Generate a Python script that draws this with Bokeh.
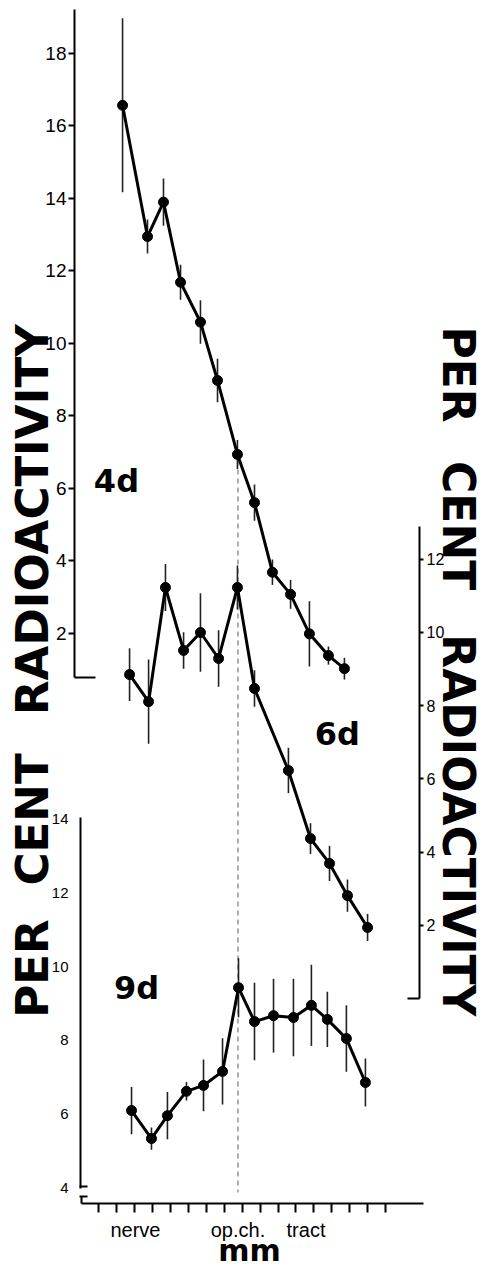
import math
from bokeh.plotting import figure
from bokeh.models import Range1d, LinearAxis, FixedTicker, Label
from bokeh.embed import file_html
from bokeh.resources import INLINE

# ---------------- data (x in mm along the visual pathway) ----------------
x4 = [1.34, 2.73, 3.62, 4.57, 5.68, 6.63, 7.74, 8.69, 9.69, 10.70, 11.75, 12.81, 13.70]
y4 = [16.57, 12.95, 13.9, 11.69, 10.59, 8.98, 6.94, 5.61, 3.69, 3.08, 1.99, 1.39, 1.03]
e4 = [2.4, 0.47, 0.65, 0.48, 0.6, 0.6, 0.4, 0.5, 0.35, 0.4, 0.9, 0.25, 0.3]

x6 = [1.73, 2.79, 3.73, 4.74, 5.68, 6.69, 7.74, 8.69, 10.58, 11.81, 12.87, 13.87, 14.99]
y6 = [8.85, 8.11, 11.23, 9.51, 10.0, 9.29, 11.23, 8.47, 6.23, 4.37, 3.69, 2.81, 1.94]
e6 = [0.72, 1.15, 0.64, 0.5, 1.07, 0.77, 0.6, 0.5, 0.62, 0.42, 0.48, 0.44, 0.37]

x9 = [1.84, 2.95, 3.84, 4.90, 5.85, 6.91, 7.80, 8.69, 9.75, 10.86, 11.86, 12.75, 13.81, 14.87]
y9 = [6.10, 5.34, 5.96, 6.62, 6.78, 7.16, 9.43, 8.51, 8.67, 8.62, 8.95, 8.57, 8.05, 6.86]
e9 = [0.64, 0.3, 0.64, 0.25, 0.7, 0.9, 0.8, 1.05, 1.0, 1.05, 1.1, 0.75, 0.9, 0.65]

ticks4 = [2, 4, 6, 8, 10, 12, 14, 16, 18]
ticks6 = [2, 4, 6, 8, 10, 12]
ticks9 = [4, 6, 8, 10, 12, 14]
mm_ticks = list(range(17))
region_pos = [2.06, 7.77, 11.56]
region_names = ["nerve", "op.ch.", "tract"]
chiasm_x = 7.77
chiasm_y4 = [6.77, -13.42]

# ---------------- figure (frame = whole canvas, axes at fixed places) ----------------
p = figure(width=484, height=1267,
           x_range=Range1d(-5.460, 21.504), y_range=Range1d(-15.490, 19.462),
           x_axis_type=None, y_axis_type=None,
           output_backend="svg", toolbar_location=None,
           min_border_left=0, min_border_right=0,
           min_border_top=0, min_border_bottom=0)
p.extra_y_ranges = {"d6": Range1d(-7.350, 27.268), "d9": Range1d(1.846, 36.182)}
p.outline_line_color = None
p.background_fill_color = "white"
p.border_fill_color = "white"

def style_axis(ax, font_size):
    ax.axis_line_color = "black"
    ax.axis_line_width = 2
    ax.major_tick_line_color = "black"
    ax.major_tick_line_width = 2
    ax.minor_tick_line_color = None
    ax.major_label_text_color = "black"
    ax.major_label_text_font = "Liberation Sans"
    ax.major_label_text_font_size = font_size

def bare_axis(side, bounds, loc, rng="default"):
    ax = LinearAxis(ticker=FixedTicker(ticks=[]), bounds=bounds, fixed_location=loc,
                    y_range_name=rng)
    ax.axis_line_color = "black"
    ax.axis_line_width = 2
    ax.major_tick_line_color = None
    ax.minor_tick_line_color = None
    ax.major_label_text_font_size = "0px"
    p.add_layout(ax, side)

# 4 d axis (left)
ax4 = LinearAxis(ticker=FixedTicker(ticks=ticks4), bounds=(0.79, 19.2), fixed_location=-1.337)
style_axis(ax4, "19px")
ax4.major_tick_out = 6
ax4.major_tick_in = 0
ax4.major_label_standoff = 2
p.add_layout(ax4, "left")
bare_axis("below", (-1.337, -0.17), 0.79)            # foot of the 4 d axis

# 9 d axis (left, slightly further right)
ax9 = LinearAxis(y_range_name="d9", ticker=FixedTicker(ticks=ticks9),
                 bounds=(4.0, 14.05), fixed_location=-1.003)
style_axis(ax9, "15px")
ax9.major_tick_out = 0
ax9.major_tick_in = 0
ax9.major_label_standoff = 12
p.add_layout(ax9, "left")
bare_axis("below", (-1.07, -0.62), 4.04, "d9")       # axis break marks
bare_axis("below", (-1.07, -0.62), 3.77, "d9")
bare_axis("left", (3.58, 3.77), -0.947, "d9")

# 6 d axis (right)
ax6 = LinearAxis(y_range_name="d6", ticker=FixedTicker(ticks=ticks6),
                 bounds=(0.0, 12.9), fixed_location=17.883)
style_axis(ax6, "16px")
ax6.major_tick_out = 4
ax6.major_tick_in = 0
ax6.major_label_standoff = 3
p.add_layout(ax6, "right")
bare_axis("below", (17.21, 17.883), 0.0, "d6")       # foot of the 6 d axis

# mm axis (below)
axx = LinearAxis(ticker=FixedTicker(ticks=region_pos, minor_ticks=mm_ticks),
                 bounds=(-0.947, 18.1), fixed_location=-13.724,
                 major_label_overrides={k: v for k, v in zip(region_pos, region_names)})
style_axis(axx, "20px")
axx.major_tick_out = 0
axx.major_tick_in = 0
axx.minor_tick_line_color = "black"
axx.minor_tick_line_width = 2
axx.minor_tick_out = 9
axx.minor_tick_in = 0
axx.major_label_standoff = 7
p.add_layout(axx, "below")

# chiasm dashed reference line
p.line([chiasm_x, chiasm_x], chiasm_y4, line_color="#777777", line_width=1.2, line_dash="5 4")

def series(xs, ys, es, rng=None):
    kw = {} if rng is None else {"y_range_name": rng}
    lo = [y - e for y, e in zip(ys, es)]
    hi = [y + e for y, e in zip(ys, es)]
    p.segment(x0=xs, y0=lo, x1=xs, y1=hi, line_color="#222222", line_width=1.6, **kw)
    p.line(xs, ys, line_color="black", line_width=3, **kw)
    p.scatter(xs, ys, size=10, fill_color="black", line_color="black", **kw)

series(x4, y4, e4)
series(x6, y6, e6, "d6")
series(x9, y9, e9, "d9")

def lab(x, y, text, size, rng="default", angle=0.0):
    p.add_layout(Label(x=x, y=y, y_range_name=rng, text=text, angle=angle,
                       text_align="center", text_baseline="middle",
                       text_font="DejaVu Sans", text_font_style="bold",
                       text_font_size=size, text_color="black"))

# panel labels
lab(1.0, 6.22, "4d", "32px")
lab(13.3, 7.24, "6d", "32px", "d6")
lab(2.12, 9.41, "9d", "32px", "d9")

# x-axis unit
lab(8.41, 2.306, "mm", "30px", "d9")

# left title (reads bottom to top)
lab(-3.677, -7.24, "PER", "45px", angle=math.pi / 2)
lab(-3.677, -3.13, "CENT", "45px", angle=math.pi / 2)
lab(-3.677, 5.14, "RADIOACTIVITY", "45px", angle=math.pi / 2)

# right title (reads top to bottom)
lab(20.06, 17.05, "PER", "44px", "d6", angle=-math.pi / 2)
lab(20.06, 12.92, "CENT", "44px", "d6", angle=-math.pi / 2)
lab(20.06, 4.73, "RADIOACTIVITY", "44px", "d6", angle=-math.pi / 2)

open("out.html", "w").write(file_html(p, INLINE))
